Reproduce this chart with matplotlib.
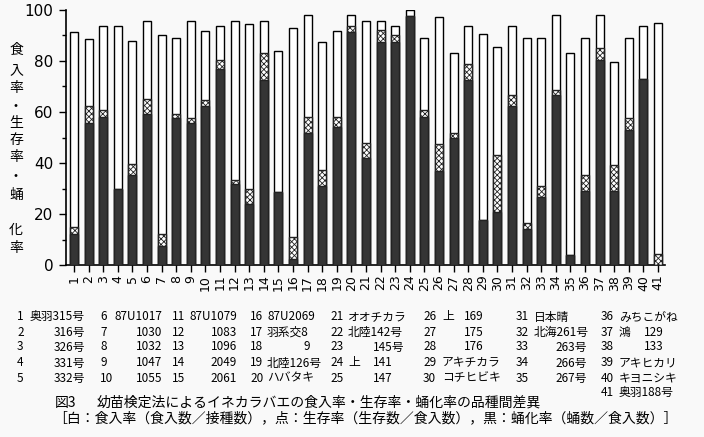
import matplotlib
matplotlib.use("Agg")
import matplotlib.pyplot as plt
import numpy as np

# ---------------- data ----------------
varieties = list(range(1, 42))
feeding = [91.3, 88.7, 93.9, 93.9, 88.0, 95.6, 90.0, 89.2, 95.6, 91.7,
           93.8, 95.6, 94.4, 95.6, 84.1, 93.0, 98.2, 87.5, 91.7, 98.2,
           95.7, 95.7, 93.9, 100.0, 89.2, 97.4, 83.1, 93.8, 90.6, 85.4,
           93.8, 89.2, 89.2, 98.0, 83.1, 89.2, 98.0, 79.5, 89.2, 93.8, 94.8]
survival = [14.8, 62.4, 60.6, 29.9, 39.5, 65.0, 12.2, 59.3, 57.6, 64.6,
            80.5, 33.5, 29.8, 83.2, 28.5, 11.0, 57.9, 37.3, 57.9, 93.9,
            48.0, 92.2, 90.2, 97.8, 60.6, 47.3, 51.6, 78.8, 17.8, 43.0,
            66.6, 16.5, 31.1, 68.8, 4.0, 35.2, 85.0, 39.1, 57.5, 73.1, 4.4]
pupation = [12.2, 55.5, 58.1, 29.9, 35.1, 59.2, 7.3, 57.5, 55.5, 62.3,
            76.7, 31.7, 24.0, 72.4, 28.5, 2.2, 51.6, 31.1, 54.2, 91.3,
            42.0, 87.6, 87.6, 97.8, 58.1, 36.7, 49.9, 72.7, 17.8, 20.7,
            62.3, 14.2, 26.8, 66.6, 4.0, 29.1, 80.5, 29.1, 52.9, 73.1, 0.0]
yticks = [0, 20, 40, 60, 80, 100]
ylabel_chars = ["食", "入", "率", "・", "生", "存", "率", "・", "蛹", "化", "率"]

names = ["奥羽315号", "316号", "326号", "331号", "332号",
         "87U1017", "1030", "1032", "1047", "1055",
         "87U1079", "1083", "1096", "2049", "2061",
         "87U2069", "羽系交8", "9", "北陸126号", "ハバタキ",
         "オオチカラ", "北陸142号", "145号", "上 141", "147",
         "上 169", "175", "176", "アキチカラ", "コチヒビキ",
         "日本晴", "北海261号", "263号", "266号", "267号",
         "みちこがね", "鴻 129", "133", "アキヒカリ", "キヨニシキ", "奥羽188号"]
caption1_head = "図3"
caption1 = "幼苗検定法によるイネカラバエの食入率・生存率・蛹化率の品種間差異"
caption2 = "［白：食入率（食入数／接種数），点：生存率（生存数／食入数），黒：蛹化率（蛹数／食入数）］"

# ---------------- layout ----------------
W, H = 704, 437
BG = "#f9f9f9"
plt.rcParams["hatch.linewidth"] = 0.6
fig = plt.figure(figsize=(W / 100, H / 100), dpi=100, facecolor=BG)
ax = fig.add_axes([66 / W, 1 - 265 / H, (665 - 66) / W, (265 - 10) / H])
ax.set_facecolor(BG)

def px(x, y):
    return x / W, 1 - y / H

x = np.array(varieties)
bw = 0.55
ax.bar(x, feeding, width=bw, color="white", edgecolor="black", linewidth=1.0, zorder=2)
ax.bar(x, survival, width=bw, color="white", edgecolor="#222222", hatch="xxxxxx",
       linewidth=1.0, zorder=3)
ax.bar(x, pupation, width=bw, color="#353535", edgecolor="#222222", linewidth=1.0, zorder=4)

ax.set_xlim(0.45, 41.48)
ax.set_ylim(0, 100)
for s in ["top", "right"]:
    ax.spines[s].set_visible(False)
ax.spines["left"].set_linewidth(1.2)
ax.spines["bottom"].set_linewidth(1.2)

ax.set_yticks(yticks)
ax.set_yticks(np.arange(10, 100, 20), minor=True)
ax.set_yticklabels([str(v) for v in yticks], fontsize=11, family="DejaVu Sans")
ax.tick_params(axis="y", which="major", length=5, width=1.0, direction="out", pad=4)
ax.tick_params(axis="y", which="minor", length=3, width=1.0, direction="out")
ax.set_xticks(x)
ax.set_xticklabels([str(v) for v in varieties], rotation=90, fontsize=9,
                   family="DejaVu Sans", va="top", ha="center")
ax.tick_params(axis="x", length=5, width=1.0, direction="out", pad=2)

jp = ["Noto Sans CJK JP", "DejaVu Sans"]
TFS = 8.5

# vertical y label
ylab_y = [50, 70, 88, 107, 123, 140, 157, 177, 195, 230, 248]
for ch, yy in zip(ylabel_chars, ylab_y):
    fig.text(*px(16, yy), ch, family=jp, fontsize=10, ha="center", va="center")

# variety table
row_y = [317, 332, 347, 363, 378, 393]
num_x = [17, 100, 172, 250, 330, 423, 516, 601]
place = {}
for i in range(1, 6):
    place[i] = (85, "right", None)
for i in range(6, 11):
    place[i] = (162, "right", None)
for i in range(11, 16):
    place[i] = (237, "right", None)
for i in range(16, 21):
    place[i] = (267, "left", None)
place[18] = (310, "right", None)
place[21] = (348, "left", None)
place[22] = (348, "left", None)
place[23] = (373, "left", None)
place[24] = (348, "left", 373)
place[25] = (373, "left", None)
place[26] = (442, "left", 464)
place[27] = (464, "left", None)
place[28] = (464, "left", None)
place[29] = (442, "left", None)
place[30] = (442, "left", None)
place[31] = (534, "left", None)
place[32] = (534, "left", None)
for i in range(33, 36):
    place[i] = (587, "right", None)
for i in range(36, 42):
    place[i] = (619, "left", None)
place[37] = (619, "left", 644)
place[38] = (644, "left", None)

for v, nm in zip(varieties, names):
    col = min((v - 1) // 5, 7)
    row = (v - 1) % 5 if v <= 40 else 5
    yy = row_y[row]
    fig.text(*px(num_x[col], yy), str(v), family=jp, fontsize=TFS, ha="left", va="center")
    xx, ha, x2 = place[v]
    if x2 is not None:
        a, b = nm.split(" ")
        fig.text(*px(xx, yy), a, family=jp, fontsize=TFS, ha="left", va="center")
        fig.text(*px(x2, yy), b, family=jp, fontsize=TFS, ha="left", va="center")
    else:
        fig.text(*px(xx, yy), nm, family=jp, fontsize=TFS, ha=ha, va="center")

fig.text(*px(55, 403), caption1_head, family=jp, fontsize=10, ha="left", va="center")
fig.text(*px(97, 403), caption1, family=jp, fontsize=10, ha="left", va="center")
fig.text(*px(53, 418), caption2, family=jp, fontsize=10, ha="left", va="center")

fig.savefig("out.png", dpi=100, facecolor=BG)
